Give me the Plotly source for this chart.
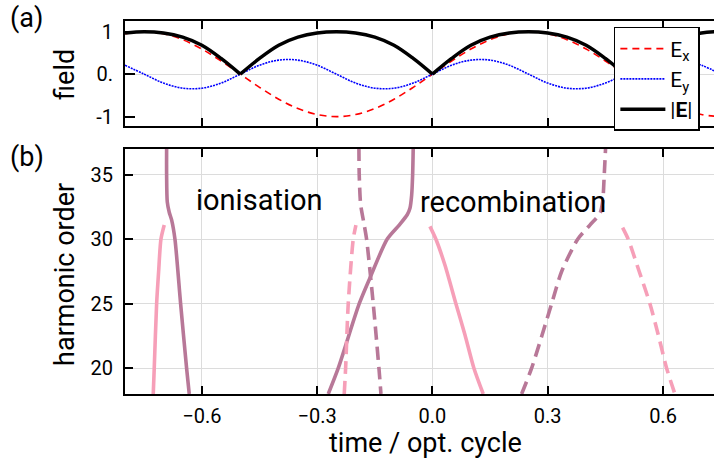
import plotly.graph_objects as go

# ---------------- panel (a): field components ----------------
t_field = [-0.80, -0.75, -0.70, -0.65, -0.60, -0.55, -0.50, -0.45, -0.40, -0.35,
           -0.30, -0.25, -0.20, -0.15, -0.10, -0.05, 0.00, 0.05, 0.10, 0.15,
           0.20, 0.25, 0.30, 0.35, 0.40, 0.45, 0.50, 0.55, 0.60, 0.65, 0.70, 0.75]
ex_vals = [0.95, 1.00, 0.95, 0.81, 0.59, 0.31, 0.00, -0.31, -0.59, -0.81,
           -0.95, -1.00, -0.95, -0.81, -0.59, -0.31, 0.00, 0.31, 0.59, 0.81,
           0.95, 1.00, 0.95, 0.81, 0.59, 0.31, 0.00, -0.31, -0.59, -0.81, -0.95, -1.00]
ey_vals = [0.21, 0.00, -0.21, -0.33, -0.33, -0.21, 0.00, 0.21, 0.33, 0.33,
           0.21, 0.00, -0.21, -0.33, -0.33, -0.21, 0.00, 0.21, 0.33, 0.33,
           0.21, 0.00, -0.21, -0.33, -0.33, -0.21, 0.00, 0.21, 0.33, 0.33, 0.21, 0.00]
# |E| arcs (separated at the zeros so the cusps stay sharp)
t_abs = [-0.80, -0.75, -0.70, -0.65, -0.60, -0.55, -0.50, None,
         -0.50, -0.45, -0.40, -0.35, -0.30, -0.25, -0.20, -0.15, -0.10, -0.05, 0.00, None,
         0.00, 0.05, 0.10, 0.15, 0.20, 0.25, 0.30, 0.35, 0.40, 0.45, 0.50, None,
         0.50, 0.55, 0.60, 0.65, 0.70, 0.75]
eabs_vals = [0.97, 1.00, 0.97, 0.87, 0.68, 0.37, 0.00, None,
             0.00, 0.37, 0.68, 0.87, 0.97, 1.00, 0.97, 0.87, 0.68, 0.37, 0.00, None,
             0.00, 0.37, 0.68, 0.87, 0.97, 1.00, 0.97, 0.87, 0.68, 0.37, 0.00, None,
             0.00, 0.37, 0.68, 0.87, 0.97, 1.00]

# ---------------- panel (b): trajectories (time, harmonic order) ----------------
ion_short_t = [-0.7265, -0.7239, -0.7177, -0.7125, -0.7065, -0.6979]
ion_short_h = [18.0, 20.0, 25.0, 27.5, 30.0, 31.1]
ion_long_t = [-0.6917, -0.6917, -0.6900, -0.6849, -0.6787, -0.6700, -0.6553, -0.6397, -0.6328]
ion_long_h = [37.1, 35.0, 32.9, 32.1, 31.5, 30.0, 25.0, 20.0, 18.0]
rec_long_t = [-0.2711, -0.2451, -0.1905, -0.1626, -0.1180, -0.0864, -0.0656, -0.0585, -0.0541, -0.0515, -0.0500]
rec_long_h = [18.0, 20.0, 25.0, 27.0, 30.0, 31.1, 31.9, 32.4, 33.4, 35.0, 37.1]
rec_short_t = [-0.0065, 0.0091, 0.0325, 0.0611, 0.0846, 0.1080, 0.1322]
rec_short_h = [31.0, 30.0, 28.0, 25.0, 22.6, 20.0, 18.0]

ion_short2_t = [-0.2295, -0.2259, -0.2191, -0.2061, -0.1991]
ion_short2_h = [18.0, 20.0, 25.0, 30.0, 31.1]
ion_long2_t = [-0.1913, -0.1905, -0.1868, -0.1774, -0.1713, -0.1540, -0.1392, -0.1340]
ion_long2_h = [37.1, 35.0, 32.7, 31.1, 30.0, 25.0, 20.0, 18.0]
rec_long2_t = [0.2321, 0.2581, 0.3102, 0.3362, 0.3780, 0.4098, 0.4359, 0.4429, 0.4471, 0.4506]
rec_long2_h = [18.0, 20.0, 25.0, 27.5, 30.0, 31.1, 32.0, 32.9, 35.0, 37.1]
rec_short2_t = [0.4949, 0.5095, 0.5381, 0.5660, 0.5876, 0.6094, 0.6310]
rec_short2_h = [30.9, 30.0, 27.5, 25.0, 22.6, 20.0, 18.0]

x_tickvals = [-0.6, -0.3, 0.0, 0.3, 0.6]
x_ticktext = ["\u22120.6", "\u22120.3", "0.0", "0.3", "0.6"]
field_tickvals = [-1, 0, 1]
field_ticktext = ["-1", "0.", "1"]
h_tickvals = [20, 25, 30, 35]
h_ticktext = ["20", "25", "30", "35"]

PINK = "#F69FB8"
MAUVE = "#B87898"
FONT = "Roboto"

fig = go.Figure()

fig.add_trace(go.Scatter(x=t_field, y=ex_vals, mode="lines", name="E<sub>x</sub>",
                         line=dict(color="#FF0000", width=1.6, dash="7px,5px", shape="spline"),
                         xaxis="x2", yaxis="y2"))
fig.add_trace(go.Scatter(x=t_field, y=ey_vals, mode="lines", name="E<sub>y</sub>",
                         line=dict(color="#0000FF", width=1.6, dash="2px,1px", shape="spline"),
                         xaxis="x2", yaxis="y2"))
fig.add_trace(go.Scatter(x=t_abs, y=eabs_vals, mode="lines", name="|<b>E</b>|",
                         line=dict(color="#000000", width=3.5, shape="spline"),
                         connectgaps=False, xaxis="x2", yaxis="y2"))

def traj(t, h, color, dash):
    fig.add_trace(go.Scatter(x=t, y=h, mode="lines", showlegend=False,
                             line=dict(color=color, width=3.6, dash=dash,
                                       shape="spline", smoothing=0.7),
                             xaxis="x", yaxis="y"))

traj(ion_short_t, ion_short_h, PINK, "solid")
traj(ion_long_t, ion_long_h, MAUVE, "solid")
traj(rec_long_t, rec_long_h, MAUVE, "solid")
traj(rec_short_t, rec_short_h, PINK, "solid")
traj(ion_short2_t, ion_short2_h, PINK, "13px,7px")
traj(ion_long2_t, ion_long2_h, MAUVE, "13px,7px")
traj(rec_long2_t, rec_long2_h, MAUVE, "13px,7px")
traj(rec_short2_t, rec_short2_h, PINK, "13px,7px")

XR = [-0.8, 0.7327]
GRID = "#DCDCDC"
common_x = dict(range=XR, tickvals=x_tickvals, ticks="inside", ticklen=8, tickwidth=1.5,
                tickcolor="black", showline=True, linecolor="black", linewidth=2,
                mirror="ticks", showgrid=True, gridcolor=GRID, gridwidth=1, zeroline=False)

fig.update_layout(
    width=714, height=459,
    margin=dict(l=125, r=0, t=21, b=65, autoexpand=False),
    paper_bgcolor="white", plot_bgcolor="white",
    font=dict(family=FONT, size=20, color="black"),
    xaxis=dict(**common_x, ticktext=x_ticktext, anchor="y", domain=[0, 1],
               tickfont=dict(size=20), ticklabelstandoff=3),
    yaxis=dict(range=[18, 37], domain=[0, 0.6568], anchor="x",
               tickvals=h_tickvals, ticktext=h_ticktext, ticks="inside", ticklen=8,
               tickwidth=1.5, tickcolor="black", showline=True, linecolor="black",
               linewidth=2, showgrid=True, gridcolor=GRID, gridwidth=1, zeroline=False,
               tickfont=dict(size=20), ticklabelstandoff=6),
    yaxis3=dict(range=[18, 37], overlaying="y", side="right", anchor="x",
                tickvals=h_tickvals, ticks="inside", ticklen=5, tickwidth=1.5,
                tickcolor="black", showticklabels=False, showline=False,
                showgrid=False, zeroline=False),
    xaxis2=dict(**common_x, showticklabels=False, anchor="y2", domain=[0, 1]),
    yaxis2=dict(range=[-1.22, 1.25], domain=[0.7185, 1.0], anchor="x2",
                tickvals=field_tickvals, ticktext=field_ticktext, ticks="inside",
                ticklen=10, tickwidth=1.5, tickcolor="black", showline=True,
                linecolor="black", linewidth=2, showgrid=False, zeroline=True,
                zerolinecolor=GRID, zerolinewidth=1,
                tickfont=dict(size=20), ticklabelstandoff=6),
    legend=dict(x=0.830, y=0.984, xanchor="left", yanchor="top",
                bgcolor="white", bordercolor="black", borderwidth=1.5,
                font=dict(family=FONT, size=21), tracegroupgap=0, itemwidth=45),
    showlegend=True,
)

ann = [
    dict(text="time / opt. cycle", x=0.511, y=-0.132, size=27, angle=0),
    dict(text="harmonic order", x=-0.102, y=0.3217, size=27, angle=-90),
    dict(text="field", x=-0.102, y=0.858, size=27, angle=-90),
    dict(text="(a)", x=-0.1664, y=1.008, size=27, angle=0),
    dict(text="(b)", x=-0.1664, y=0.635, size=27, angle=0),
]
for a in ann:
    fig.add_annotation(text=a["text"], x=a["x"], y=a["y"], xref="paper", yref="paper",
                       showarrow=False, textangle=a["angle"],
                       font=dict(family=FONT, size=a["size"], color="black"),
                       xanchor="center", yanchor="middle", borderpad=0)

fig.add_annotation(text="ionisation", x=-0.449, y=33.05, xref="x", yref="y",
                   showarrow=False, font=dict(family=FONT, size=29, color="black"))
fig.add_annotation(text="recombination", x=0.2095, y=32.9, xref="x", yref="y",
                   showarrow=False, font=dict(family=FONT, size=29, color="black"))

fig.write_html("out.html", config={"displayModeBar": False},
               post_script="document.body.style.margin='0px';document.body.style.overflow='hidden';")
